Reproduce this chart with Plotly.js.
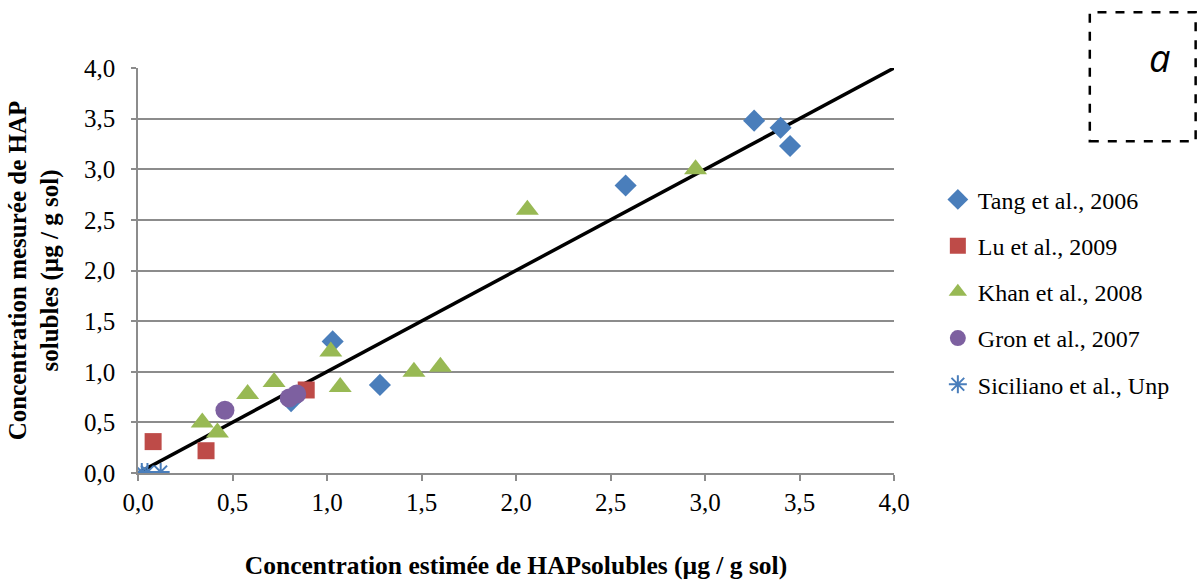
<!DOCTYPE html>
<html><head><meta charset="utf-8">
<script src="https://cdn.plot.ly/plotly-3.0.1.min.js"></script>
<style>body{margin:0;background:#fff}#c{width:1198px;height:587px}</style>
</head><body><div id="c"></div>
<script>
const tangX = [1.03, 1.28, 0.81, 2.58, 3.26, 3.40, 3.45];
const tangY = [1.30, 0.87, 0.71, 2.84, 3.48, 3.41, 3.23];
const luX = [0.08, 0.36, 0.89];
const luY = [0.31, 0.22, 0.82];
const khanX = [0.34, 0.42, 0.58, 0.72, 1.02, 1.07, 1.46, 1.60, 2.06, 2.95];
const khanY = [0.50, 0.40, 0.78, 0.90, 1.20, 0.85, 1.00, 1.05, 2.60, 3.00];
const gronX = [0.46, 0.80, 0.84];
const gronY = [0.62, 0.74, 0.78];
const sicX = [0.02, 0.05, 0.12];
const sicY = [0.01, 0.01, 0.01];
const lineX = [0, 4];
const lineY = [0, 4];
const names = ["Tang et al., 2006", "Lu et al., 2009", "Khan et al., 2008", "Gron et al., 2007", "Siciliano et al., Unp"];

const traces = [
  {x: lineX, y: lineY, mode: 'lines', line: {color: '#000', width: 3.5}, showlegend: false, hoverinfo: 'skip'},
  {x: tangX, y: tangY, name: names[0], legendgroup: 'a', mode: 'markers', marker: {symbol: 'diamond', size: 17, color: '#4A7EBB'}},
  {x: luX, y: luY, name: names[1], legendgroup: 'b', mode: 'markers', marker: {symbol: 'square', size: 17, color: '#BE4B48'}},
  {x: khanX, y: khanY, name: names[2], legendgroup: 'c', mode: 'markers', marker: {symbol: 'triangle-up', size: 20, color: '#98B954'}},
  {x: gronX, y: gronY, name: names[3], legendgroup: 'd', mode: 'markers', marker: {symbol: 'circle', size: 19, color: '#7D60A0'}},
  {x: sicX, y: sicY, name: names[4], legendgroup: 'e', mode: 'markers', marker: {symbol: 'asterisk-open', size: 15, color: '#4A7EBB', line: {color: '#4A7EBB', width: 2}}}
];

const serif = 'Liberation Serif, Times New Roman, serif';
const layout = {
  width: 1198, height: 587,
  margin: {l: 138, r: 304, t: 68, b: 114},
  paper_bgcolor: '#fff', plot_bgcolor: '#fff',
  separators: ', ',
  font: {family: serif, size: 25, color: '#000'},
  xaxis: {
    range: [0, 4], dtick: 0.5, tickformat: '.1f', showgrid: false, zeroline: false,
    showline: true, linecolor: '#8c8c8c', linewidth: 1.5,
    ticks: 'outside', ticklen: 6, tickcolor: '#8c8c8c', tickwidth: 1.5,
    tickfont: {family: serif, size: 25},
    title: {text: '<b>Concentration estimée de HAPsolubles (µg / g sol)</b>', font: {family: serif, size: 25.5}, standoff: 41}
  },
  yaxis: {
    range: [0, 4], dtick: 0.5, tickformat: '.1f', showgrid: true, gridcolor: '#8c8c8c', gridwidth: 1.5, zeroline: false,
    showline: true, linecolor: '#8c8c8c', linewidth: 1.5,
    ticks: 'outside', ticklen: 5, tickcolor: '#8c8c8c', tickwidth: 1.5,
    ticklabelstandoff: 11,
    tickfont: {family: serif, size: 25},
    title: {text: '<b>Concentration mesurée de HAP<br>solubles (µg / g sol)</b>', font: {family: serif, size: 25}, standoff: 18}
  },
  legend: {x: 1.058, y: 0.73, xanchor: 'left', yanchor: 'top', font: {family: serif, size: 24}, tracegroupgap: 12, bgcolor: 'rgba(0,0,0,0)'},
  shapes: [
    {type: 'rect', xref: 'paper', yref: 'paper', x0: 1.259, x1: 1.399, y0: 0.819, y1: 1.1375, line: {color: '#000', width: 2.5, dash: 'dash'}}
  ],
  annotations: [
    {xref: 'paper', yref: 'paper', x: 1.352, y: 1.026, xanchor: 'center', yanchor: 'middle', text: '<i>a</i>', showarrow: false, font: {family: 'Open Sans, sans-serif', size: 38, color: '#000'}}
  ]
};
Plotly.newPlot('c', traces, layout, {displayModeBar: false});
</script></body></html>
